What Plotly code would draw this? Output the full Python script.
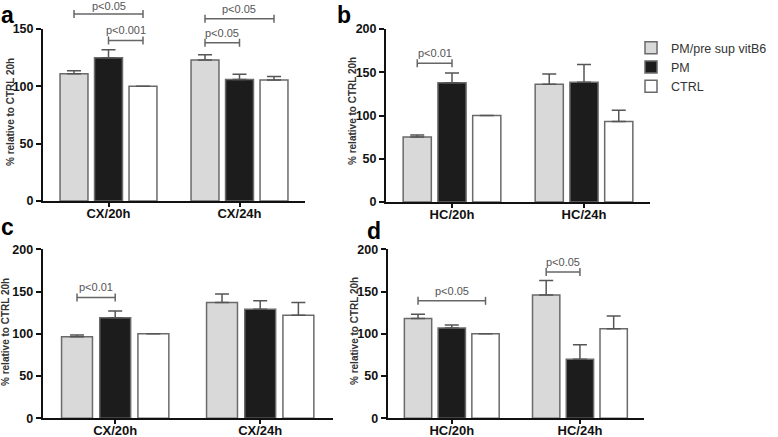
import plotly.graph_objects as go

W, H = 778, 437

series_names = ["PM/pre sup vitB6", "PM", "CTRL"]
series_colors = ["#d9d9d9", "#1c1c1c", "#ffffff"]

# Panel a
a_cats = ["CX/20h", "CX/24h"]
a_gray = [111, 123]; a_gray_err = [2.5, 4.5]
a_black = [125, 106]; a_black_err = [7, 4.5]
a_white = [100, 105.5]; a_white_err = [0, 3]
# Panel b
b_cats = ["HC/20h", "HC/24h"]
b_gray = [75, 136]; b_gray_err = [2.5, 12]
b_black = [138, 138.5]; b_black_err = [11, 20.5]
b_white = [100, 93]; b_white_err = [0, 13]
# Panel c
c_cats = ["CX/20h", "CX/24h"]
c_gray = [96.5, 137]; c_gray_err = [2, 10]
c_black = [119, 129]; c_black_err = [8, 10]
c_white = [100, 122]; c_white_err = [0, 15]
# Panel d
d_cats = ["HC/20h", "HC/24h"]
d_gray = [118, 146]; d_gray_err = [5, 17]
d_black = [107, 70]; d_black_err = [3.5, 17]
d_white = [100, 106]; d_white_err = [0, 15]

# significance brackets: (category, series_from, series_to, y value, label)
a_sig = [(0, 0, 2, 163, "p<0.05"), (0, 1, 2, 140, "p<0.001"),
         (1, 0, 2, 159, "p<0.05"), (1, 0, 1, 138, "p<0.05")]
b_sig = [(0, 0, 1, 160.5, "p<0.01")]
c_sig = [(0, 0, 1, 143, "p<0.01")]
d_sig = [(0, 0, 2, 139, "p<0.05"), (1, 0, 1, 173, "p<0.05")]

BARGAP = 0.21
BARGROUPGAP = 0.19
SLOT = (1 - BARGAP) / 3

panels = [
    dict(cats=a_cats, vals=[a_gray, a_black, a_white], errs=[a_gray_err, a_black_err, a_white_err],
         sig=a_sig, px=(43, 305), py=(29, 201), yr=(0, 150), ticks=[0, 50, 100, 150],
         letter="a", lx=0, ly=1, lanchor="top", tx=11, ty=112),
    dict(cats=b_cats, vals=[b_gray, b_black, b_white], errs=[b_gray_err, b_black_err, b_white_err],
         sig=b_sig, px=(386, 650), py=(29, 202), yr=(0, 200), ticks=[0, 50, 100, 150, 200],
         letter="b", lx=336, ly=1, lanchor="top", tx=353, ty=111),
    dict(cats=c_cats, vals=[c_gray, c_black, c_white], errs=[c_gray_err, c_black_err, c_white_err],
         sig=c_sig, px=(42.7, 332.7), py=(249.3, 418.3), yr=(0, 200), ticks=[0, 50, 100, 150, 200],
         letter="c", lx=0, ly=227, lanchor="middle", tx=5, ty=332),
    dict(cats=d_cats, vals=[d_gray, d_black, d_white], errs=[d_gray_err, d_black_err, d_white_err],
         sig=d_sig, px=(387.7, 644), py=(249.3, 418.3), yr=(0, 200), ticks=[0, 50, 100, 150, 200],
         letter="d", lx=366, ly=231, lanchor="middle", tx=354, ty=331),
]

fig = go.Figure()
layout = dict(
    width=W, height=H, margin=dict(l=0, r=0, t=0, b=0, autoexpand=False),
    paper_bgcolor="white", plot_bgcolor="white",
    barmode="group", bargap=BARGAP, bargroupgap=BARGROUPGAP,
    font=dict(family="Liberation Sans, Arial, sans-serif", color="#222"),
    showlegend=True,
    legend=dict(x=631 / W, y=(H - 33) / H, xanchor="left", yanchor="top",
                font=dict(size=12.5, color="#333"), bgcolor="rgba(0,0,0,0)",
                tracegroupgap=0, itemclick=False),
)
shapes = []
annotations = []

for k, p in enumerate(panels):
    suffix = "" if k == 0 else str(k + 1)
    xa, ya = "x" + suffix, "y" + suffix
    xdom = [p["px"][0] / W, p["px"][1] / W]
    ydom = [(H - p["py"][1]) / H, (H - p["py"][0]) / H]
    xs = list(range(len(p["cats"])))
    for i in range(3):
        fig.add_trace(go.Bar(
            x=xs, y=p["vals"][i], name=series_names[i],
            marker=dict(color=series_colors[i], line=dict(color="#6a6a6a", width=1.5)),
            error_y=dict(type="data", symmetric=False, array=p["errs"][i],
                         arrayminus=[0] * len(xs), color="#555", thickness=1.5, width=7),
            xaxis=xa, yaxis=ya, showlegend=(k == 0), legendgroup=series_names[i],
            hoverinfo="skip",
        ))
    layout["xaxis" + suffix] = dict(
        domain=xdom, anchor=ya, range=[-0.5, len(xs) - 0.5], automargin=False,
        tickvals=xs, ticktext=p["cats"], showline=True, linecolor="#111", linewidth=2,
        ticks="outside", ticklen=4, tickwidth=2, tickcolor="#111", showgrid=False, zeroline=False,
        ticklabelstandoff=-5,
        tickfont=dict(size=13, weight="bold", color="#111"), fixedrange=True,
    )
    layout["yaxis" + suffix] = dict(
        domain=ydom, anchor=xa, range=list(p["yr"]), tickvals=p["ticks"], automargin=False,
        showline=True, linecolor="#111", linewidth=2, ticks="outside", ticklen=5, tickwidth=2,
        tickcolor="#111", showgrid=False, zeroline=False,
        tickfont=dict(size=12.5, weight="bold", color="#111"), fixedrange=True,
    )

    def to_px(cat, s, p=p, xdom=xdom):
        xv = cat + (s - 1) * SLOT
        return xdom[0] + (xv + 0.5) / len(p["cats"]) * (xdom[1] - xdom[0])

    def to_py(v, p=p, ydom=ydom):
        return ydom[0] + (v - p["yr"][0]) / (p["yr"][1] - p["yr"][0]) * (ydom[1] - ydom[0])

    for (cat, s0, s1, yv, lab) in p["sig"]:
        x0, x1, yy = to_px(cat, s0), to_px(cat, s1), to_py(yv)
        line = dict(color="#666", width=1.5)
        shapes.append(dict(type="line", xref="paper", yref="paper", x0=x0, x1=x1, y0=yy, y1=yy, line=line))
        for xe in (x0, x1):
            shapes.append(dict(type="line", xref="paper", yref="paper", x0=xe, x1=xe,
                               ysizemode="pixel", yanchor=yy, y0=-4, y1=4, line=line))
        room = H * (1 - yy) - 13.5
        annotations.append(dict(text=lab, xref="paper", yref="paper", x=(x0 + x1) / 2, y=yy,
                                xanchor="center", yanchor="bottom", yshift=max(0, min(3, room)),
                                borderpad=0, showarrow=False, font=dict(size=11, color="#555555")))
    annotations.append(dict(text=p["letter"], xref="paper", yref="paper", x=p["lx"] / W,
                            y=(H - p["ly"]) / H, xanchor="left", yanchor=p["lanchor"],
                            showarrow=False, borderpad=0,
                            font=dict(size=23, weight="bold", color="#000")))
    annotations.append(dict(text="% relative to CTRL 20h", xref="paper", yref="paper",
                            x=p["tx"] / W, y=(H - p["ty"]) / H, xanchor="center", yanchor="middle",
                            textangle=-90, showarrow=False,
                            font=dict(size=10, weight="bold", color="#333")))

layout["shapes"] = shapes
layout["annotations"] = annotations
fig.update_layout(**layout)
fig.write_html("out.html", config={"displayModeBar": False},
               post_script="document.body.style.margin='0';document.documentElement.style.overflow='hidden';")
